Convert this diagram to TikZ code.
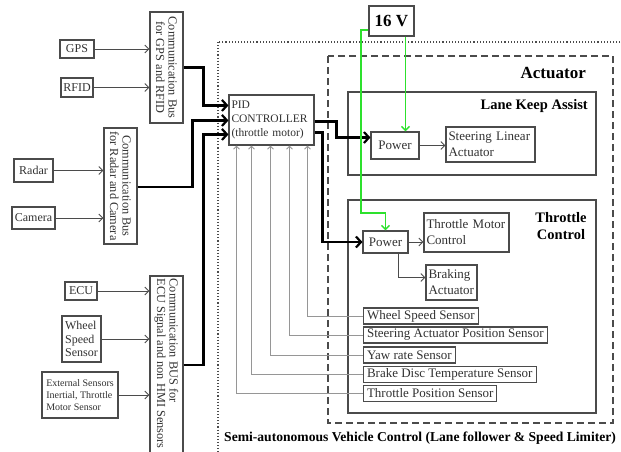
\documentclass[tikz,border=0pt]{standalone}
\usepackage{fontspec}
\setmainfont{Liberation Serif}
\usetikzlibrary{arrows.meta}
\definecolor{boxgray}{RGB}{75,75,75}
\definecolor{txtgray}{RGB}{50,50,50}
\definecolor{fbgray}{RGB}{150,150,150}
\definecolor{vgreen}{RGB}{45,225,45}
\tikzset{
  box/.style={draw=boxgray, line width=1.1pt, fill=white, text=txtgray, inner sep=2pt, font=\fontsize{12}{13.5}\selectfont},
  abox/.style={box, font=\fontsize{13}{16}\selectfont},
  sens/.style={abox, minimum height=16pt, inner xsep=3.5pt, inner ysep=1pt, anchor=west},
  bustxt/.style={rotate=-90, text=txtgray, inner sep=0pt, font=\fontsize{12.3}{12.5}\selectfont},
  grp/.style={draw=boxgray, line width=1.1pt},
  ttl/.style={font=\bfseries\fontsize{14.5}{17}\selectfont, text=black, inner sep=0pt},
  sig/.style={draw=boxgray, line width=0.9pt, -{Straight Barb[length=4pt,width=8pt]}},
  thk/.style={draw=black, line width=2.2pt, -{Straight Barb[length=5pt,width=11pt]}},
  fb/.style={draw=fbgray, line width=0.9pt, -{Straight Barb[length=3pt,width=6pt]}},
  pwr/.style={draw=vgreen, line width=1.4pt, -{Straight Barb[length=4pt,width=8pt]}}
}

\begin{document}
\begin{tikzpicture}[x=1pt, y=-1pt]
\useasboundingbox (0,0) rectangle (621,451);

% frames
\draw[boxgray, line width=1.1pt, dotted] (218,42) rectangle (660,480);
\draw[boxgray, line width=1.1pt, dash pattern=on 7pt off 4pt] (328,56) rectangle (613,423);
\draw[grp] (348,92) rectangle (596,175);
\draw[grp] (348,200) rectangle (596,413);
\node[ttl, font=\bfseries\fontsize{17}{20}\selectfont, anchor=east] (actl) at (586,73) {Actuator};
\node[ttl, anchor=east] (lkal) at (588,106) {Lane Keep Assist};
\node[ttl, align=center] (tcl) at (561,226) {Throttle\\Control};
\node[ttl, font=\bfseries\fontsize{13.6}{15}\selectfont, anchor=west] (sysl) at (224,438) {Semi-autonomous Vehicle Control (Lane follower \& Speed Limiter)};

% inputs
\node[box, minimum width=34pt, minimum height=18pt] (gps) at (77,49) {GPS};
\node[box, minimum width=32pt, minimum height=19pt] (rfid) at (77,87.5) {RFID};
\node[box, minimum width=39pt, minimum height=23pt] (radar) at (33.5,170.5) {Radar};
\node[box, minimum width=43pt, minimum height=22pt] (cam) at (33.5,218) {Camera};
\node[box, minimum width=32pt, minimum height=18pt] (ecu) at (81,291) {ECU};
\node[box, minimum width=39pt, minimum height=46pt, align=left] (wss) at (81.5,339) {Wheel\\Speed\\Sensor};
\node[box, minimum width=76pt, minimum height=46pt, align=left, font=\fontsize{10}{12}\selectfont] (ext) at (80,395) {External Sensors\\Inertial, Throttle\\Motor Sensor};

% buses
\node[box, minimum width=33pt, minimum height=111pt] (bus1) at (166.5,67.5) {};
\node[bustxt, align=center] (bus1t) at (bus1) {Communication Bus\\for GPS and RFID};
\node[box, minimum width=33pt, minimum height=116pt] (bus2) at (120.5,186) {};
\node[bustxt, align=center] (bus2t) at (bus2) {Communication Bus\\for Radar and Camera};
\node[box, minimum width=33pt, minimum height=194pt] (bus3) at (166.5,373) {};
\node[bustxt, align=left, anchor=west] (bus3t) at ([yshift=-3pt]bus3.north) {Communication BUS for\\ECU Signal and non HMI Sensors};

% controller and actuators
\node[box, minimum width=85pt, minimum height=50pt, align=left, text width=80pt, font=\fontsize{11.5}{14}\selectfont] (pid) at (271.5,120) {PID\\CONTROLLER\\(throttle motor)};
\node[box, font=\bfseries\fontsize{17}{20}\selectfont, text=black, minimum width=45pt, minimum height=30pt] (v16) at (391.5,21) {16 V};
\node[abox, minimum width=48pt, minimum height=27pt] (pow1) at (395,145.5) {Power};
\node[abox, minimum width=89pt, minimum height=35pt, align=left, text width=84pt] (sla) at (490.5,144.5) {Steering Linear\\Actuator};
\node[abox, minimum width=45pt, minimum height=22pt] (pow2) at (385.5,242) {Power};
\node[abox, minimum width=85pt, minimum height=39pt, align=left, text width=80pt] (tmc) at (466.5,232.5) {Throttle Motor\\Control};
\node[abox, minimum width=51pt, minimum height=35pt, align=left, text width=46pt] (brk) at (451.5,282.5) {Braking\\Actuator};

% sensors
\node[sens] (ws) at (363,316) {Wheel Speed Sensor};
\node[sens] (sap) at (363,335) {Steering Actuator Position Sensor};
\node[sens] (yaw) at (363,355) {Yaw rate Sensor};
\node[sens] (bdt) at (363,374.5) {Brake Disc Temperature Sensor};
\node[sens] (tps) at (363,393.5) {Throttle Position Sensor};

% connectors
\draw[sig] (gps) -- (gps -| bus1.west);
\draw[sig] (rfid) -- (rfid -| bus1.west);
\draw[sig] (radar) -- (radar -| bus2.west);
\draw[sig] (cam) -- (cam -| bus2.west);
\draw[sig] (ecu) -- (ecu -| bus3.west);
\draw[sig] (wss) -- (wss -| bus3.west);
\draw[sig] (ext) -- (ext -| bus3.west);
\draw[thk] (bus1.east) -- ++(20,0) |- ([yshift=-11pt]pid.north west);
\draw[thk] ([yshift=-1pt]bus2.east) -- ++(55,0) |- ([yshift=-26pt]pid.north west);
\draw[thk] ([yshift=8pt]bus3.east) -- ++(20,0) |- ([yshift=-40pt]pid.north west);
\draw[thk] ([yshift=-27pt]pid.north east) -- ++(22,0) |- ([yshift=8pt]pow1.west);
\draw[thk] ([yshift=-38pt]pid.north east) -- ++(8,0) |- (pow2.west);
\coordinate (gbend) at (361,213);
\draw[pwr] ([yshift=-9pt]v16.west) -| (gbend) -| (pow2.north);
\draw[pwr] ([xshift=14pt]v16.south) -- ([xshift=14pt]v16.south |- pow1.north);
\draw[sig] (pow1) -- (pow1 -| sla.west);
\draw[sig] (pow2) -- (pow2 -| tmc.west);
\draw[sig] ([xshift=-10pt]pow2.south east) |- ([yshift=5pt]brk.west);
\draw[fb] (ws.west) -| ([xshift=79pt]pid.south west);
\draw[fb] (sap.west) -| ([xshift=61pt]pid.south west);
\draw[fb] (yaw.west) -| ([xshift=42pt]pid.south west);
\draw[fb] (bdt.west) -| ([xshift=23pt]pid.south west);
\draw[fb] (tps.west) -| ([xshift=8pt]pid.south west);
\end{tikzpicture}
\end{document}
